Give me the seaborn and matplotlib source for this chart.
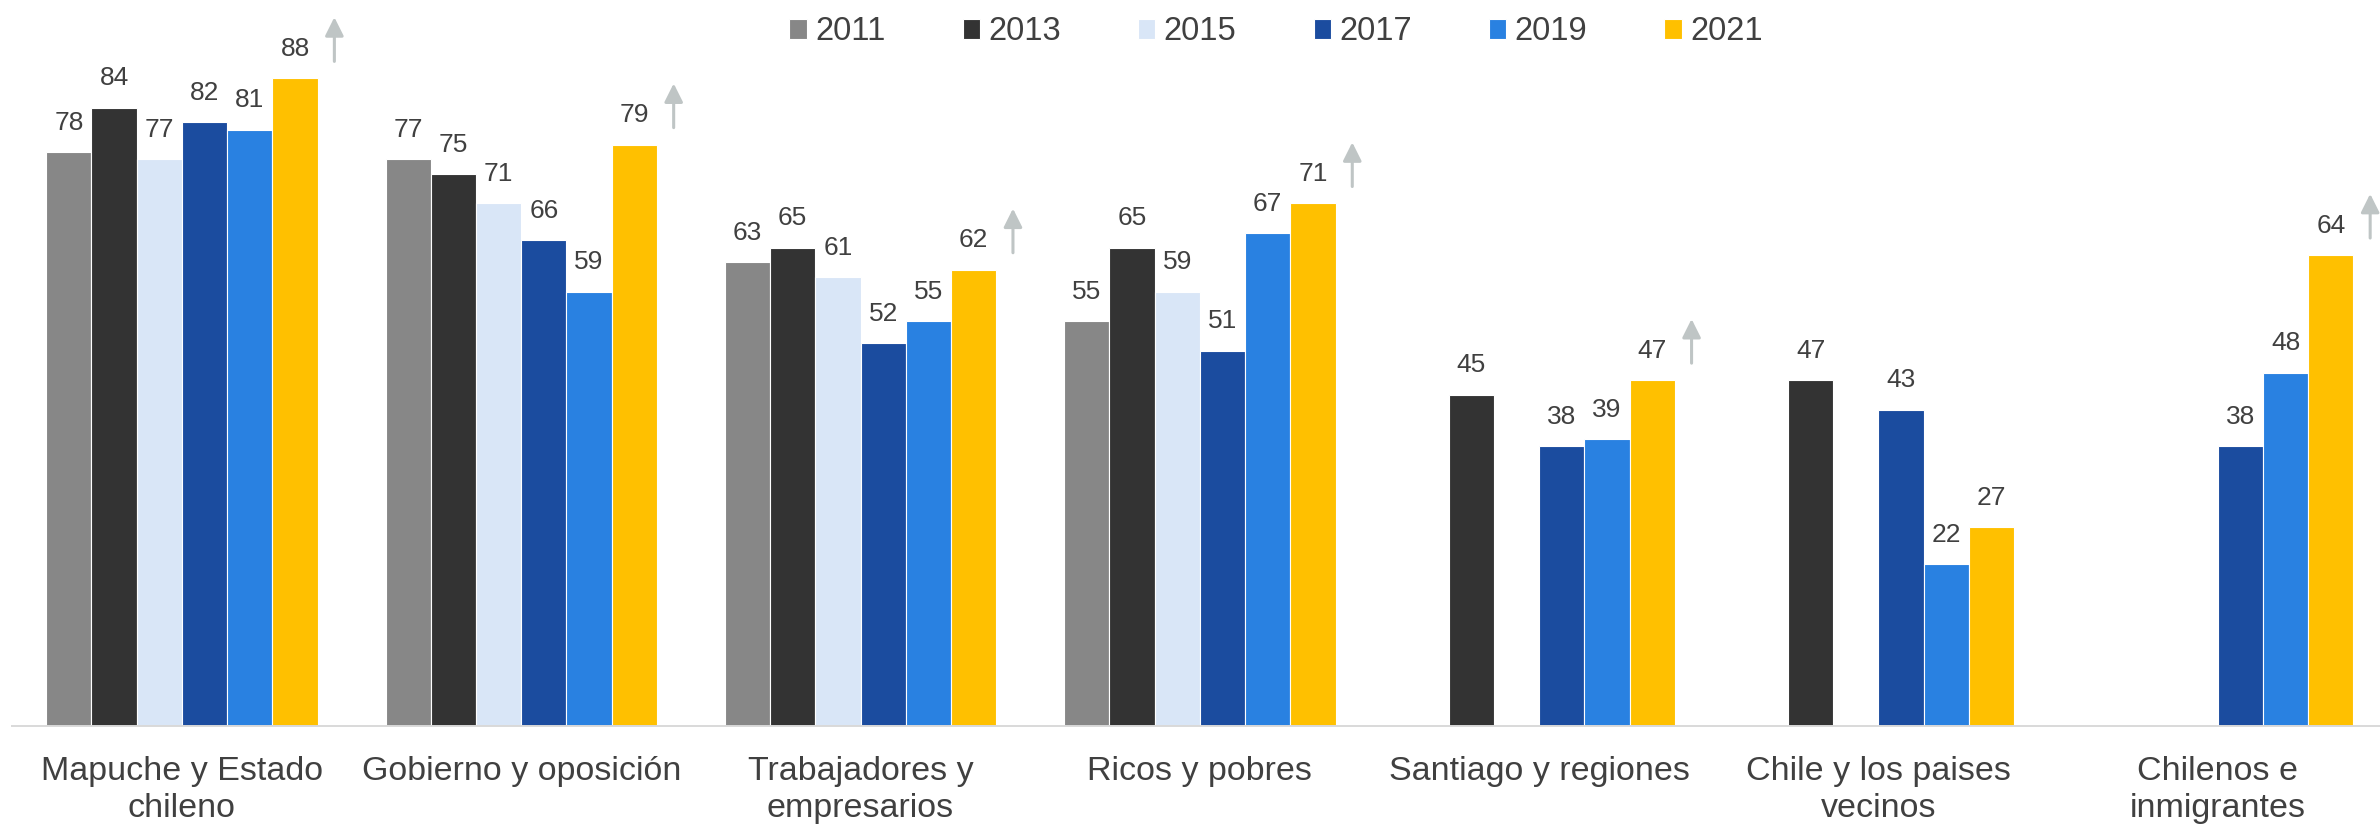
import numpy as np
import pandas as pd
import matplotlib
matplotlib.use("Agg")
import matplotlib.pyplot as plt
from matplotlib.patches import ArrowStyle
import seaborn as sns

categories = [
    "Mapuche y Estado\nchileno",
    "Gobierno y oposición",
    "Trabajadores y\nempresarios",
    "Ricos y pobres",
    "Santiago y regiones",
    "Chile y los paises\nvecinos",
    "Chilenos e\ninmigrantes",
]
years = ["2011", "2013", "2015", "2017", "2019", "2021"]

v2011 = [78, 77, 63, 55, None, None, None]
v2013 = [84, 75, 65, 65, 45, 47, None]
v2015 = [77, 71, 61, 59, None, None, None]
v2017 = [82, 66, 52, 51, 38, 43, 38]
v2019 = [81, 59, 55, 67, 39, 22, 48]
v2021 = [88, 79, 62, 71, 47, 27, 64]

# categories where an "increase" arrow is shown next to the 2021 bar
arrow_flags = [True, True, True, True, True, False, True]

colors = ["#878787", "#333333", "#D9E6F7", "#1B4C9F", "#2981E1", "#FFC000"]
text_color = "#404040"

series = dict(zip(years, [v2011, v2013, v2015, v2017, v2019, v2021]))
rows = []
for y in years:
    for c, v in zip(categories, series[y]):
        if v is not None:
            rows.append({"categoria": c, "año": y, "valor": v})
df = pd.DataFrame(rows)

sns.set_theme(style="white")
plt.rcParams["font.family"] = ["Liberation Sans", "DejaVu Sans"]

W, H = 2380, 824
fig = plt.figure(figsize=(W / 100, H / 100), dpi=100)
base_px = 726
cat_w = 339.3
left_px = 12.3
ax = fig.add_axes([left_px / W, (H - base_px) / H, 7 * cat_w / W, base_px / H])

sns.barplot(
    data=df, x="categoria", y="valor", hue="año",
    order=categories, hue_order=years, palette=colors,
    saturation=1, edgecolor="white", linewidth=0.8,
    width=0.8, ax=ax,
)

px_per_unit = 7.36
ax.set_ylim(0, base_px / px_per_unit)
ax.set_xlim(-0.5, 6.5)

for cont in ax.containers:
    ax.bar_label(cont, fmt="%d", padding=12.5, fontsize=19, color=text_color)

# arrows
arrow_style = ArrowStyle("-|>", head_length=0.4, head_width=0.2)
for i, (flag, v) in enumerate(zip(arrow_flags, v2021)):
    if not flag:
        continue
    x = i + 0.4 + 16.7 / cat_w
    ax.annotate(
        "", xy=(x, v + 8.3), xytext=(x, v + 2.3),
        arrowprops=dict(arrowstyle=arrow_style, color="#BFC5C5", lw=2.2,
                        mutation_scale=28, shrinkA=0, shrinkB=0),
        annotation_clip=False,
    )

# axes styling
for s in ["left", "right", "top"]:
    ax.spines[s].set_visible(False)
ax.spines["bottom"].set_color("#D9D9D9")
ax.spines["bottom"].set_linewidth(1.4)
ax.set_xlabel("")
ax.set_ylabel("")
ax.set_yticks([])
ax.set_xticks(range(len(categories)))
ax.set_xticklabels(categories, fontsize=24.5, color=text_color, linespacing=1.27)
ax.tick_params(axis="x", which="major", length=0, pad=21.5)
ax.set_xticks(np.arange(-0.5, 7, 1.0), minor=True)
ax.tick_params(axis="x", which="minor", length=8, width=1.4, color="#D9D9D9")

handles, labels = ax.get_legend_handles_labels()
ax.legend(
    handles, labels, loc="center", bbox_to_anchor=(1276 / W, 1 - 32 / H),
    bbox_transform=fig.transFigure, ncol=6, frameon=False,
    fontsize=23.5, labelcolor=text_color, handlelength=0.53, handleheight=0.55,
    handletextpad=0.25, columnspacing=2.37, borderpad=0, borderaxespad=0,
)

fig.savefig("out.png", dpi=100, facecolor="white")
